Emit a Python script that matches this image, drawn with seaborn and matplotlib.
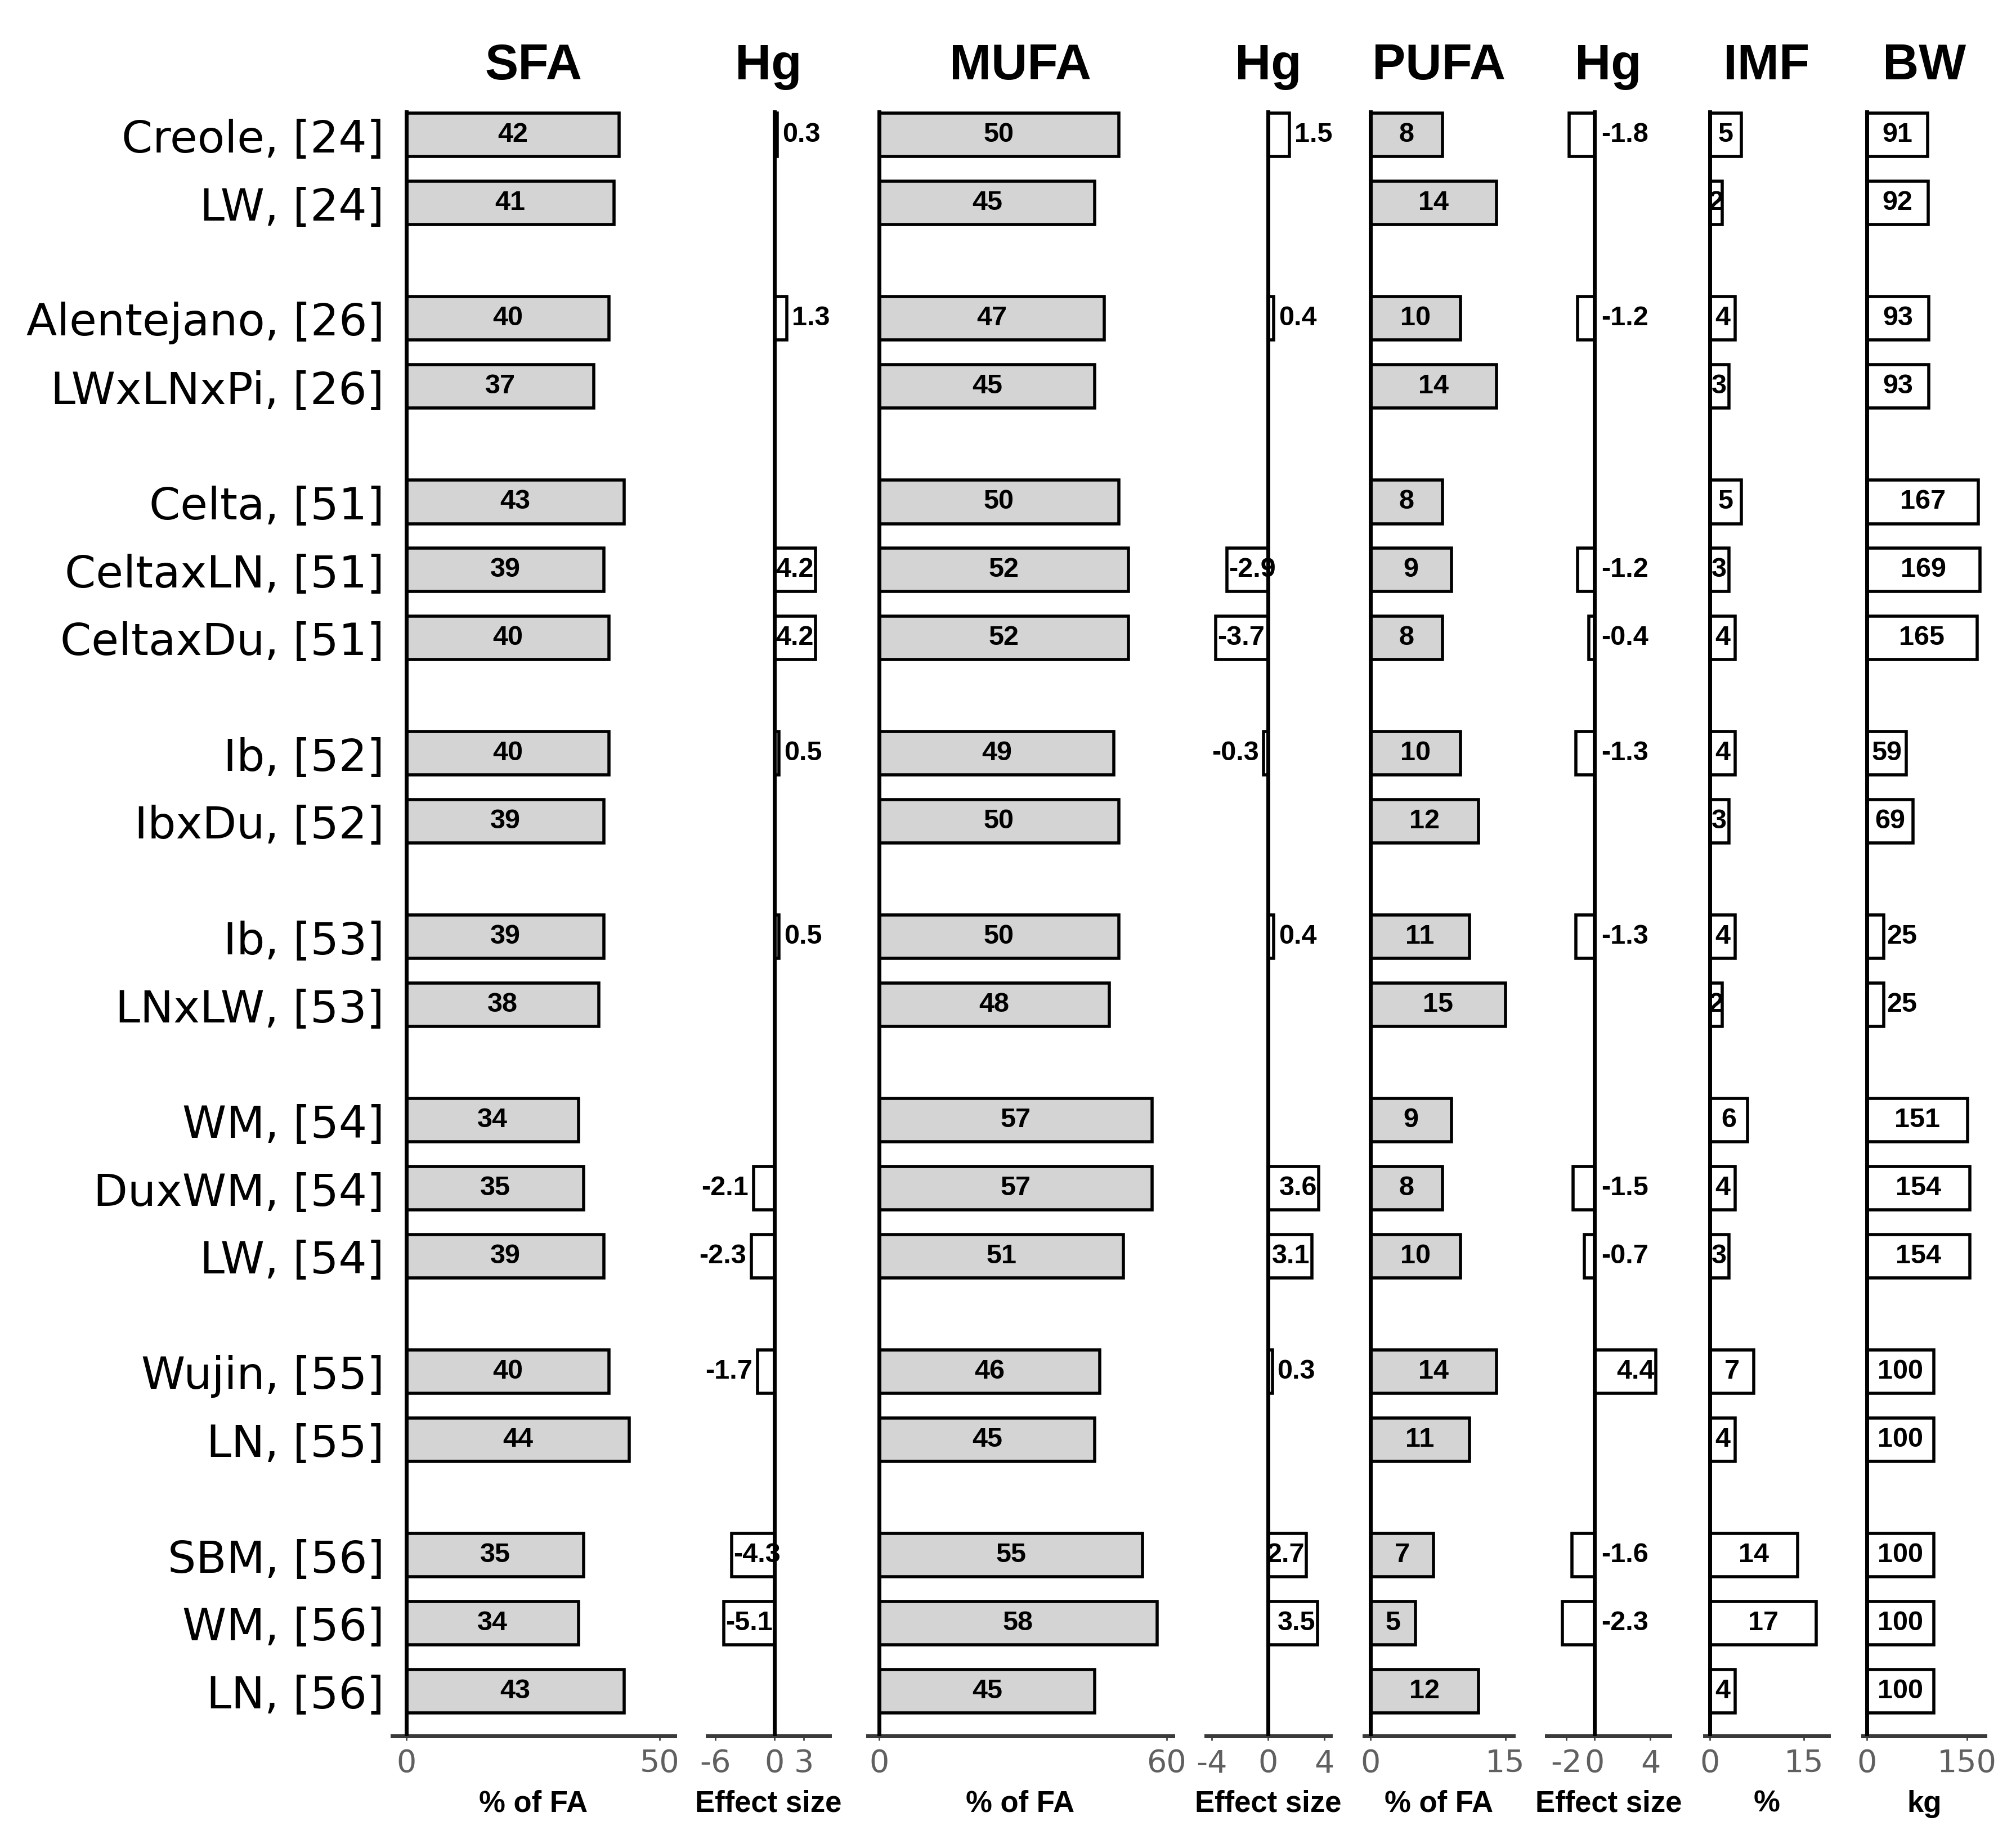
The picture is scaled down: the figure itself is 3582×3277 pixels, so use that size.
import numpy as np
import seaborn as sns
import matplotlib.pyplot as plt

sns.set_theme(style='white')
plt.rcParams['font.family'] = ['DejaVu Sans']
plt.rcParams['text.color'] = 'black'
plt.rcParams['axes.labelcolor'] = 'black'
plt.rcParams['ytick.color'] = 'black'

# rows (breed, [reference])
breeds = ['Creole, [24]', 'LW, [24]', 'Alentejano, [26]', 'LWxLNxPi, [26]',
          'Celta, [51]', 'CeltaxLN, [51]', 'CeltaxDu, [51]', 'Ib, [52]', 'IbxDu, [52]',
          'Ib, [53]', 'LNxLW, [53]', 'WM, [54]', 'DuxWM, [54]', 'LW, [54]',
          'Wujin, [55]', 'LN, [55]', 'SBM, [56]', 'WM, [56]', 'LN, [56]']
nan = np.nan
sfa = [42, 41, 40, 37, 43, 39, 40, 40, 39, 39, 38, 34, 35, 39, 40, 44, 35, 34, 43]
hg_sfa = [0.3, nan, 1.3, nan, nan, 4.2, 4.2, 0.5, nan, 0.5, nan, nan, -2.1, -2.3, -1.7, nan, -4.3, -5.1, nan]
mufa = [50, 45, 47, 45, 50, 52, 52, 49, 50, 50, 48, 57, 57, 51, 46, 45, 55, 58, 45]
hg_mufa = [1.5, nan, 0.4, nan, nan, -2.9, -3.7, -0.3, nan, 0.4, nan, nan, 3.6, 3.1, 0.3, nan, 2.7, 3.5, nan]
pufa = [8, 14, 10, 14, 8, 9, 8, 10, 12, 11, 15, 9, 8, 10, 14, 11, 7, 5, 12]
hg_pufa = [-1.8, nan, -1.2, nan, nan, -1.2, -0.4, -1.3, nan, -1.3, nan, nan, -1.5, -0.7, 4.4, nan, -1.6, -2.3, nan]
imf = [5, 2, 4, 3, 5, 3, 4, 4, 3, 4, 2, 6, 4, 3, 7, 4, 14, 17, 4]
bw = [91, 92, 93, 93, 167, 169, 165, 59, 69, 25, 25, 151, 154, 154, 100, 100, 100, 100, 100]

# y positions: rows of one study close together, gap between studies
study = [b.split('[')[1] for b in breeds]
pos = []
y = 0.0
for i, s in enumerate(study):
    if i > 0:
        y += 1.0 if s == study[i - 1] else 1.7
    pos.append(y)
pos = np.array(pos)

GRAY = '#d4d4d4'
panels = [
    # title, values, xlabel, xlim, ticks, fill, hg?, axes left/width (fig frac), overflow tol
    ('SFA', sfa, '% of FA', (-2.8, 53), [0, 50], GRAY, False, 0.1945, 0.1403, 0),
    ('Hg', hg_sfa, 'Effect size', (-6.8, 5.6), [-6, 0, 3], 'white', True, 0.3508, 0.0606, 0.3),
    ('MUFA', mufa, '% of FA', (-2.4, 61.3), [0, 60], GRAY, False, 0.4305, 0.1512, 0),
    ('Hg', hg_mufa, 'Effect size', (-4.4, 4.45), [-4, 0, 4], 'white', True, 0.5982, 0.0619, 0.3),
    ('PUFA', pufa, '% of FA', (-0.7, 15.9), [0, 15], GRAY, False, 0.6767, 0.0740, 0),
    ('Hg', hg_pufa, 'Effect size', (-3.4, 5.4), [-2, 0, 4], 'white', True, 0.7672, 0.0612, 0.0),
    ('IMF', imf, '%', (-0.8, 18.9), [0, 15], 'white', False, 0.8457, 0.0612, 0),
    ('BW', bw, 'kg', (-5.8, 177), [0, 150], 'white', False, 0.9241, 0.0606, 0),
]

fig = plt.figure(figsize=(35.82, 32.77), dpi=100)
bottom, height = 0.0586, 0.8815
axes = []
for k, (title, vals, xlab, xlim, ticks, fill, is_hg, left, width, tol) in enumerate(panels):
    ax = fig.add_axes([left, bottom, width, height])
    vals = np.array(vals, dtype=float)
    ok = ~np.isnan(vals)
    sns.barplot(x=vals[ok], y=pos[ok], orient='h', native_scale=True, width=0.64,
                color=fill, saturation=1, edgecolor='black', linewidth=4,
                errorbar=None, ax=ax)
    ax.axvline(0, color='black', lw=5, zorder=3)
    ax.set_xlim(*xlim)
    ax.set_ylim(pos[-1] + 0.66, -0.36)
    ax.set_xticks(ticks)
    ax.set_xticklabels([str(t) for t in ticks])
    ax.tick_params(axis='x', bottom=True, length=6, width=2, color='#444444',
                   labelsize=40, labelcolor='#606060', pad=10)
    if k == 0:
        ax.set_yticks(pos)
        ax.set_yticklabels(breeds, fontsize=57, color='black')
        ax.tick_params(axis='y', left=False, length=0, pad=10)
    else:
        ax.set_yticks([])
    ax.set_ylabel('')
    for sp in ['left', 'top', 'right']:
        ax.spines[sp].set_visible(False)
    ax.spines['bottom'].set_color('#3a3a3a')
    ax.spines['bottom'].set_linewidth(5)
    ax.set_xlabel(xlab, fontsize=38, fontweight='bold', family='Liberation Sans',
                  labelpad=14, color='black')
    ax.set_title(title, fontsize=64, fontweight='bold', family='Liberation Sans',
                 pad=40, color='black')
    axes.append(ax)

# value labels: centred in the bar, or next to it when they do not fit
fig.canvas.draw()
rend = fig.canvas.get_renderer()
for ax, (title, vals, xlab, xlim, ticks, fill, is_hg, left, width, tol) in zip(axes, panels):
    to_data = ax.transData.inverted()
    ax_l, ax_r = ax.transData.transform([(xlim[0], 0), (xlim[1], 0)])[:, 0]
    for yv, v in zip(pos, vals):
        if np.isnan(v):
            continue
        s = f'{v:.1f}' if is_hg else f'{v:.0f}'
        t = ax.text(0, yv, s, fontsize=35, fontweight='bold', family='Liberation Sans',
                    va='center', ha='left', zorder=5, color='black')
        w = t.get_window_extent(rend).width
        zd, yd = ax.transData.transform((0, yv))
        ed = ax.transData.transform((v, yv))[0]
        barpx = abs(ed - zd)
        if not is_hg:
            if w <= 1.6 * barpx:
                xd, ha = (zd + ed) / 2, 'center'
            else:
                xd, ha = ed + 6, 'left'
        else:
            pad = 9
            if v >= 0:
                over = (ed + pad + w) - ax_r
            else:
                over = ax_l - (ed - pad - w)
            if over <= tol * w:
                xd, ha = (ed + pad, 'left') if v >= 0 else (ed - pad, 'right')
            elif barpx >= 0.8 * w:
                xd, ha = (ed - 3, 'right') if v >= 0 else (ed + 3, 'left')
            else:
                xd, ha = (zd - 12, 'right') if v >= 0 else (zd + 12, 'left')
        t.set_x(to_data.transform((xd, yd))[0])
        t.set_ha(ha)

fig.savefig('out.png', dpi=100)
